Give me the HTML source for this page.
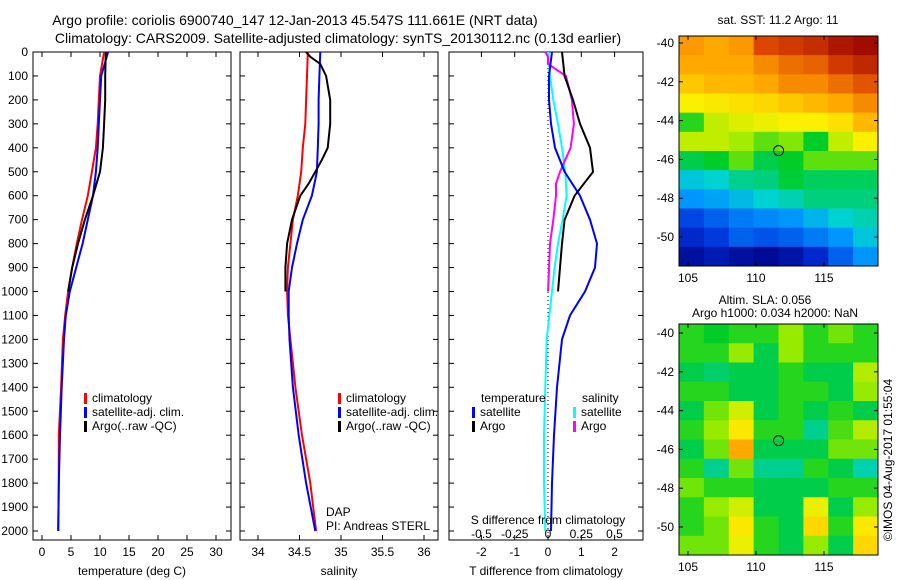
<!DOCTYPE html>
<html><head><meta charset="utf-8"><style>
body{margin:0;background:#fff}
svg{display:block;font-family:"Liberation Sans",sans-serif}
</style></head><body>
<svg id="c" width="900" height="580" viewBox="0 0 900 580"></svg>
<script>
// ---- data ----
const depths = [0,100,200,300,400,500,600,700,800,900,1000,1100,1200,1400,1600,1800,2000];
const tempClim = [10.7,10.0,9.8,9.6,9.3,8.6,7.9,6.9,6.0,5.2,4.5,4.0,3.6,3.3,2.9,2.9,2.8];
const tempSat  = [11.4,10.2,10.0,9.8,9.6,9.3,8.8,7.9,7.0,5.9,4.8,4.1,3.8,3.4,3.1,2.9,2.8];
const argoDepths = [0,100,200,300,400,500,600,700,800,900,1000];
const tempArgo = [11.0,10.9,10.9,10.7,10.5,10.0,8.8,7.4,6.2,5.2,4.5];
const salClim = [34.60,34.59,34.58,34.57,34.54,34.52,34.48,34.42,34.39,34.36,34.35,34.36,34.39,34.45,34.53,34.63,34.70];
const salSat  = [34.75,34.74,34.73,34.73,34.72,34.71,34.65,34.54,34.47,34.41,34.37,34.37,34.38,34.42,34.49,34.58,34.69];
const salArgoDepths = [0,20,50,100,200,300,400,450,500,550,600,700,800,900,1000];
const salArgo = [34.58,34.63,34.75,34.82,34.87,34.87,34.84,34.77,34.69,34.61,34.51,34.41,34.35,34.33,34.33];
const dTSat  = [0.12,0.03,0.03,0.09,0.21,0.5,0.96,1.26,1.47,1.41,1.11,0.66,0.42,0.27,0.18,0.12,0.09];
const dTArgo = [0.42,0.5,0.75,0.96,1.26,1.35,0.8,0.5,0.42,0.36,0.3];
const dSSat  = [0.0,0.015,0.04,0.075,0.105,0.13,0.14,0.11,0.075,0.05,0.03,0.01,-0.01,-0.02,-0.03,-0.03,-0.02];
const dSArgo = [-0.02,0.0,0.0,0.135,0.18,0.195,0.17,0.13,0.09,0.06,0.06,0.04,0.015,0.008,0.0];
const sstGrid = [
[0.76,0.74,0.76,0.88,0.9,0.92,0.96,0.98],
[0.74,0.74,0.74,0.78,0.82,0.84,0.9,0.93],
[0.7,0.72,0.72,0.74,0.78,0.78,0.82,0.86],
[0.65,0.66,0.67,0.68,0.7,0.72,0.74,0.78],
[0.52,0.61,0.63,0.64,0.65,0.65,0.67,0.72],
[0.61,0.61,0.59,0.55,0.57,0.5,0.61,0.65],
[0.48,0.5,0.55,0.48,0.5,0.55,0.55,0.55],
[0.38,0.4,0.44,0.45,0.49,0.47,0.47,0.47],
[0.3,0.32,0.36,0.4,0.42,0.45,0.45,0.45],
[0.18,0.22,0.26,0.28,0.3,0.35,0.4,0.42],
[0.12,0.16,0.22,0.2,0.22,0.26,0.3,0.38],
[0.05,0.08,0.05,0.03,0.06,0.12,0.22,0.3]];
const slaGrid = [
[.52,.5,.52,.52,.58,.52,.56,.52],
[.52,.52,.58,.48,.58,.52,.52,.52],
[.48,.46,.48,.48,.52,.48,.48,.6],
[.52,.52,.48,.48,.52,.52,.48,.58],
[.48,.56,.62,.48,.52,.48,.52,.48],
[.52,.58,.66,.52,.52,.44,.54,.6],
[.48,.56,.74,.48,.48,.48,.56,.56],
[.52,.44,.56,.44,.44,.52,.48,.42],
[.56,.52,.52,.48,.48,.48,.52,.52],
[.52,.58,.62,.48,.48,.64,.48,.58],
[.52,.56,.66,.52,.48,.68,.52,.66],
[.56,.56,.64,.52,.48,.58,.48,.68]];
const depthTicks = [0,100,200,300,400,500,600,700,800,900,1000,1100,1200,1300,1400,1500,1600,1700,1800,1900,2000];
const tTicks = [0,5,10,15,20,25,30];
const sTicks = [34,34.5,35,35.5,36];
const dTTicks = [-2,-1,0,1,2];
const dSTicks = [-0.5,-0.25,0,0.25,0.5];
const dSLabels = ["-0.5","-0.25","0","0.25","0.5"];
const lonTicks = [105,110,115];
const latTicks = [-40,-42,-44,-46,-48,-50];
const argoLon = 111.661, argoLat = -45.547;

// ---- helpers ----
const S = document.getElementById('c');
const NS = 'http://www.w3.org/2000/svg';
function mk(tag, at, parent){const e=document.createElementNS(NS,tag);for(const k in at)e.setAttribute(k,at[k]);(parent||S).appendChild(e);return e;}
function txt(x,y,s,anchor,size){const e=mk('text',{x:x,y:y,'font-size':size||12,'text-anchor':anchor||'start',fill:'#000'});e.textContent=s;return e;}
const Y0=52, Y1=540, yD=d=>52+0.2395*d;
const xT=v=>42+5.8*v, xS=v=>341+83*(v-35), xdT=v=>548+33.3*v, xdS=v=>548+133*v;
const panels=[[33,231],[240,438],[449,643]];

function panel(i,ticks,xf,labels,title){
  const [a,b]=panels[i];
  const r=mk('rect',{x:a,y:Y0,width:b-a,height:Y1-Y0,fill:'#fff',stroke:'#000','stroke-width':1});
  
  
  depthTicks.forEach(d=>{const y=yD(d);
    mk('line',{x1:a,x2:a+5,y1:y,y2:y,stroke:'#000'});mk('line',{x1:b-5,x2:b,y1:y,y2:y,stroke:'#000'});
    if(i==0){const t=txt(28,y+4,String(d),'end');}
  });
  ticks.forEach((v,k)=>{const x=xf(v);
    mk('line',{x1:x,x2:x,y1:Y0,y2:Y0+5,stroke:'#000'});mk('line',{x1:x,x2:x,y1:Y1-5,y2:Y1,stroke:'#000'});
    const t=txt(x,556,labels?labels[k]:String(v),'middle');
  });
  const t=txt((a+b)/2,575,title,'middle');
}
function line(ds,vs,xf,col,name){
  const p=ds.map((d,k)=>xf(vs[k]).toFixed(1)+','+yD(d).toFixed(1)).join(' ');
  const e=mk('polyline',{points:p,fill:'none',stroke:col,'stroke-width':2});
  
  
}
function legend(x,y,col,s,name){
  mk('rect',{x:x,y:y-9,width:3,height:11,fill:col});
  const t=txt(x+8,y,s);
}

// titles
let t=txt(295,25,'Argo profile: coriolis 6900740_147 12-Jan-2013 45.547S 111.661E (NRT data)','middle',14);

t=txt(338,43,'Climatology: CARS2009. Satellite-adjusted climatology: synTS_20130112.nc (0.13d earlier)','middle',14);


// panel 1
panel(0,tTicks,xT,null,'temperature (deg C)');
line(depths,tempClim,xT,'#f00','temp-climatology-line');
line(depths,tempSat,xT,'#00f','temp-satellite-line');
line(argoDepths,tempArgo,xT,'#000','temp-argo-line');
legend(84,402,'#f00','climatology','legend-climatology');
legend(84,416,'#00f','satellite-adj. clim.','legend-satellite');
legend(84,430,'#000','Argo(..raw -QC)','legend-argo');

// panel 2
panel(1,sTicks,xS,null,'salinity');
line(depths,salClim,xS,'#f00','sal-climatology-line');
line(depths,salSat,xS,'#00f','sal-satellite-line');
line(salArgoDepths,salArgo,xS,'#000','sal-argo-line');
legend(338,402,'#f00','climatology','legend-climatology-2');
legend(338,416,'#00f','satellite-adj. clim.','legend-satellite-2');
legend(338,430,'#000','Argo(..raw -QC)','legend-argo-2');
t=txt(326,516,'DAP');
t=txt(326,530,'PI: Andreas STERL');

// panel 3
panel(2,dTTicks,xdT,null,'T difference from climatology');
mk('line',{x1:548,x2:548,y1:Y0,y2:Y1,stroke:'#000','stroke-dasharray':'1,3'});
line(depths,dSSat,xdS,'#0ff','dS-satellite-line');
line(salArgoDepths,dSArgo,xdS,'#f0f','dS-argo-line');
line(depths,dTSat,xdT,'#00f','dT-satellite-line');
line(argoDepths,dTArgo,xdT,'#000','dT-argo-line');
t=txt(481,402,'temperature');
t=txt(582,402,'salinity');
legend(472,416,'#00f','satellite','legend-t-satellite');
legend(472,430,'#000','Argo','legend-t-argo');
legend(573,416,'#0ff','satellite','legend-s-satellite');
legend(573,430,'#f0f','Argo','legend-s-argo');
t=txt(548,524,'S difference from climatology','middle');
dSTicks.forEach((v,k)=>{const e=txt(xdS(v),538,dSLabels[k],'middle');});

// maps
const cmapStops=[[0,[0,0,130]],[0.15,[0,50,220]],[0.3,[0,150,255]],[0.4,[0,210,210]],[0.5,[0,205,40]],[0.58,[150,235,0]],[0.65,[250,240,0]],[0.75,[255,160,0]],[0.88,[220,70,0]],[1,[150,0,0]]];
function cmap(v){
  v=Math.max(0,Math.min(1,v));
  for(let i=1;i<cmapStops.length;i++){
    const [a,ca]=cmapStops[i-1],[b,cb]=cmapStops[i];
    if(v<=b){const f=(v-a)/(b-a);return 'rgb('+ca.map((c,k)=>Math.round(c+(cb[k]-c)*f)).join(',')+')';}
  }
  return 'rgb(150,0,0)';
}
function map(grid,top,bot,lat40y,name){
  const L=679,R=878;
  const xL=v=>688+13.6*(v-105), yL=v=>lat40y+19.4*(-40-v);
  const rows=grid.length, cols=grid[0].length, cw=(R-L)/cols, ch=(bot-top)/rows;
  const g=mk('g',{});
  grid.forEach((row,i)=>row.forEach((v,j)=>{
    const c=mk('rect',{x:L+j*cw,y:top+i*ch,width:cw+0.5,height:ch+0.5,fill:cmap(v)},g);
    
    
  }));
  mk('rect',{x:L,y:top,width:R-L,height:bot-top,fill:'none',stroke:'#000'});
  lonTicks.forEach(v=>{const x=xL(v);mk('line',{x1:x,x2:x,y1:top,y2:top+4,stroke:'#000'});mk('line',{x1:x,x2:x,y1:bot-4,y2:bot,stroke:'#000'});
    const e=txt(x,bot+16,String(v),'middle');});
  latTicks.forEach(v=>{const y=yL(v);mk('line',{x1:L,x2:L+4,y1:y,y2:y,stroke:'#000'});mk('line',{x1:R-4,x2:R,y1:y,y2:y,stroke:'#000'});
    const e=txt(L-5,y+4,String(v),'end');});
  const c=mk('circle',{cx:xL(argoLon),cy:yL(argoLat),r:5,fill:'none',stroke:'#000'});
  
}
map(sstGrid,36,266,43,'sst-map');
map(slaGrid,324,555,333,'sla-map');
t=txt(778,24,'sat. SST: 11.2 Argo: 11','middle');
t=txt(765,304,'Altim. SLA: 0.056','middle');
t=txt(775,317,'Argo h1000: 0.034 h2000: NaN','middle');
t=txt(0,0,'©IMOS 04-Aug-2017 01:55:04','middle');t.setAttribute('transform','translate(892,460) rotate(-90)');

</script>
</body></html>
